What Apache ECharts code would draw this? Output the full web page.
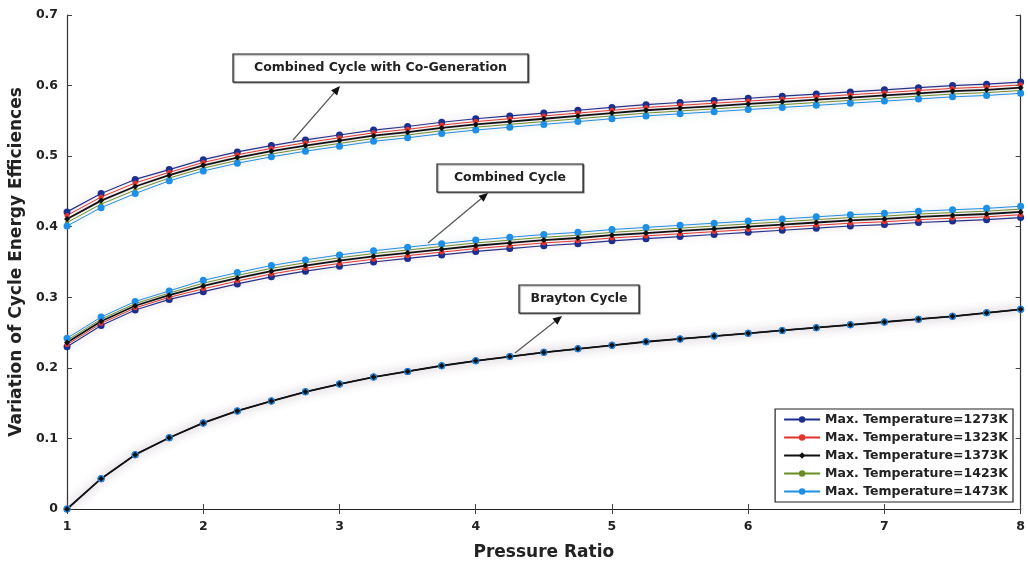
<!DOCTYPE html>
<html>
<head>
<meta charset="utf-8">
<script src="https://cdn.jsdelivr.net/npm/echarts@6/dist/echarts.min.js"></script>
<style>
html,body{margin:0;padding:0;background:#fff;}
#chart{width:1028px;height:567px;}
</style>
</head>
<body>
<div id="chart"></div>
<script>
// Pressure ratio (x)
const PR = [1,1.25,1.5,1.75,2,2.25,2.5,2.75,3,3.25,3.5,3.75,4,4.25,4.5,4.75,5,5.25,5.5,5.75,6,6.25,6.5,6.75,7,7.25,7.5,7.75,8];
const TEMPS = ['Max. Temperature=1273K','Max. Temperature=1323K','Max. Temperature=1373K','Max. Temperature=1423K','Max. Temperature=1473K'];
const X_TICKS = [1,2,3,4,5,6,7,8];
const Y_TICKS = [0,0.1,0.2,0.3,0.4,0.5,0.6,0.7];

// Combined cycle with co-generation
const CCG_1273 = [0.421,0.447,0.467,0.481,0.495,0.506,0.515,0.523,0.530,0.537,0.542,0.548,0.553,0.557,0.561,0.565,0.569,0.573,0.576,0.579,0.582,0.585,0.588,0.591,0.594,0.597,0.600,0.602,0.605];
const CCG_1323 = [0.416,0.442,0.462,0.477,0.491,0.502,0.511,0.519,0.526,0.533,0.538,0.544,0.549,0.553,0.557,0.561,0.565,0.569,0.572,0.575,0.578,0.581,0.584,0.587,0.590,0.593,0.596,0.598,0.601];
const CCG_1373 = [0.411,0.437,0.457,0.473,0.487,0.498,0.507,0.515,0.522,0.529,0.534,0.540,0.545,0.549,0.553,0.557,0.561,0.565,0.568,0.571,0.574,0.577,0.580,0.583,0.586,0.589,0.592,0.594,0.597];
const CCG_1423 = [0.406,0.432,0.452,0.469,0.483,0.494,0.503,0.511,0.518,0.525,0.530,0.536,0.541,0.545,0.549,0.553,0.557,0.561,0.564,0.567,0.570,0.573,0.576,0.579,0.582,0.585,0.588,0.590,0.593];
const CCG_1473 = [0.401,0.427,0.447,0.465,0.479,0.490,0.499,0.507,0.514,0.521,0.526,0.532,0.537,0.541,0.545,0.549,0.553,0.557,0.560,0.563,0.566,0.569,0.572,0.575,0.578,0.581,0.584,0.586,0.589];

// Combined cycle
const CC_1273 = [0.230,0.260,0.282,0.297,0.308,0.319,0.329,0.337,0.344,0.350,0.355,0.360,0.365,0.369,0.373,0.376,0.380,0.383,0.386,0.389,0.392,0.395,0.398,0.401,0.403,0.406,0.408,0.410,0.413];
const CC_1323 = [0.233,0.263,0.285,0.300,0.312,0.323,0.333,0.341,0.348,0.354,0.359,0.364,0.369,0.373,0.377,0.380,0.384,0.387,0.390,0.393,0.396,0.399,0.402,0.405,0.407,0.410,0.412,0.414,0.417];
const CC_1373 = [0.236,0.266,0.288,0.303,0.316,0.327,0.337,0.345,0.352,0.358,0.363,0.368,0.373,0.377,0.381,0.384,0.388,0.391,0.394,0.397,0.400,0.403,0.406,0.409,0.411,0.414,0.416,0.418,0.421];
const CC_1423 = [0.239,0.269,0.291,0.306,0.320,0.331,0.341,0.349,0.356,0.362,0.367,0.372,0.377,0.381,0.385,0.388,0.392,0.395,0.398,0.401,0.404,0.407,0.410,0.413,0.415,0.418,0.420,0.422,0.425];
const CC_1473 = [0.242,0.272,0.294,0.309,0.324,0.335,0.345,0.353,0.360,0.366,0.371,0.376,0.381,0.385,0.389,0.392,0.396,0.399,0.402,0.405,0.408,0.411,0.414,0.417,0.419,0.422,0.424,0.426,0.429];

// Brayton cycle (curves for all temperatures coincide)
const BR_1273 = [0,0.043,0.077,0.101,0.122,0.139,0.153,0.166,0.177,0.187,0.195,0.203,0.210,0.216,0.222,0.227,0.232,0.237,0.241,0.245,0.249,0.253,0.257,0.261,0.265,0.269,0.273,0.278,0.283];
const BR_1323 = [0,0.043,0.077,0.101,0.122,0.139,0.153,0.166,0.177,0.187,0.195,0.203,0.210,0.216,0.222,0.227,0.232,0.237,0.241,0.245,0.249,0.253,0.257,0.261,0.265,0.269,0.273,0.278,0.283];
const BR_1373 = [0,0.043,0.077,0.101,0.122,0.139,0.153,0.166,0.177,0.187,0.195,0.203,0.210,0.216,0.222,0.227,0.232,0.237,0.241,0.245,0.249,0.253,0.257,0.261,0.265,0.269,0.273,0.278,0.283];
const BR_1423 = [0,0.043,0.077,0.101,0.122,0.139,0.153,0.166,0.177,0.187,0.195,0.203,0.210,0.216,0.222,0.227,0.232,0.237,0.241,0.245,0.249,0.253,0.257,0.261,0.265,0.269,0.273,0.278,0.283];
const BR_1473 = [0,0.043,0.077,0.101,0.122,0.139,0.153,0.166,0.177,0.187,0.195,0.203,0.210,0.216,0.222,0.227,0.232,0.237,0.241,0.245,0.249,0.253,0.257,0.261,0.265,0.269,0.273,0.278,0.283];

const VALUES = [
  [CCG_1273, CC_1273, BR_1273],
  [CCG_1323, CC_1323, BR_1323],
  [CCG_1373, CC_1373, BR_1373],
  [CCG_1423, CC_1423, BR_1423],
  [CCG_1473, CC_1473, BR_1473]
];

const STYLES = [
  {color:'#1b2f8e', width:1.2, symbol:'circle', size:7, halo:'rgba(120,140,220,0.4)'},
  {color:'#e2332c', width:1,   symbol:'circle', size:5, halo:'rgba(240,140,140,0.45)'},
  {color:'#111111', width:1.8, symbol:'diamond', size:6, halo:'rgba(220,150,160,0.45)'},
  {color:'#6b8e23', width:1,   symbol:'circle', size:4, halo:'rgba(150,190,120,0.35)'},
  {color:'#1e8fe6', width:1,   symbol:'circle', size:7, halo:'rgba(110,180,230,0.5)'}
];

const FONT = '"DejaVu Sans", "Liberation Sans", sans-serif';
const DRAW_ORDER = [0,1,3,4,2];

const series = [];
DRAW_ORDER.forEach(ti => {
  const st = STYLES[ti];
  VALUES[ti].forEach(arr => {
    series.push({
      name: TEMPS[ti],
      type: 'line',
      data: PR.map((x,i) => [x, arr[i]]),
      symbol: st.symbol,
      symbolSize: st.size,
      showSymbol: true,
      itemStyle: {color: st.color},
      lineStyle: {color: st.color, width: st.width, shadowColor: st.halo, shadowBlur: 10},
      emphasis: {disabled: true},
      animation: false
    });
  });
});

function arrow(x1,y1,x2,y2){
  const a = Math.atan2(y2-y1, x2-x1);
  const L = 9, W = 4;
  const bx = x2 - L*Math.cos(a), by = y2 - L*Math.sin(a);
  const px = -Math.sin(a)*W, py = Math.cos(a)*W;
  return [
    {type:'line', shape:{x1:x1,y1:y1,x2:bx,y2:by}, style:{stroke:'#555', lineWidth:1.2}, z:100},
    {type:'polygon', shape:{points:[[x2,y2],[bx+px,by+py],[bx-px,by-py]]}, style:{fill:'#111'}, z:100}
  ];
}
function box(x,y,w,h,text){
  return [
    {type:'rect', shape:{x:x,y:y,width:w,height:h}, style:{fill:'#fff', stroke:'#222', lineWidth:1.2, shadowColor:'rgba(0,0,0,0.45)', shadowOffsetX:1, shadowOffsetY:1, shadowBlur:1}, z:100},
    {type:'text', x:x+w/2, y:y+h/2, style:{text:text, align:'center', verticalAlign:'middle', font:'bold 12.5px ' + FONT, fill:'#222'}, z:101}
  ];
}

const graphics = [].concat(
  arrow(293,140,340,86), box(233,54,295,28,'Combined Cycle with Co-Generation'),
  arrow(428,243,488,193), box(437,164,146,28,'Combined Cycle'),
  arrow(515,353,562,316), box(519,285,120,28,'Brayton Cycle')
);

const axisLineStyle = {lineStyle:{color:'#222', width:1.2}};
const chart = echarts.init(document.getElementById('chart'), null, {renderer:'canvas'});
chart.setOption({
  backgroundColor:'#fff',
  animation:false,
  grid:{left:67, right:6, top:15, bottom:58},
  legend:{
    data: TEMPS,
    orient:'vertical',
    right:15, bottom:65,
    backgroundColor:'#fff',
    borderColor:'#222', borderWidth:1.2,
    padding:[4,5,4,8],
    itemGap:5,
    itemWidth:36, itemHeight:8,
    textStyle:{fontFamily:FONT, fontWeight:'bold', fontSize:12.5, color:'#222'},
    selectedMode:false,
    z:50
  },
  xAxis:[
    {type:'value', min:1, max:8, interval:1, position:'bottom',
     name:'Pressure Ratio', nameLocation:'middle', nameGap:35,
     nameTextStyle:{fontFamily:FONT, fontWeight:'bold', fontSize:17, color:'#222'},
     axisLine:axisLineStyle, axisTick:{inside:true, length:5, lineStyle:{color:'#444'}},
     axisLabel:{fontFamily:FONT, fontWeight:'bold', fontSize:12.5, color:'#222', margin:11,
       formatter: v => X_TICKS.includes(v) ? String(v) : ''},
     splitLine:{show:false}},
    {type:'value', min:1, max:8, interval:1, position:'top',
     axisLine:axisLineStyle, axisTick:{inside:true, length:5, lineStyle:{color:'#444'}},
     axisLabel:{show:false}, splitLine:{show:false}}
  ],
  yAxis:[
    {type:'value', min:0, max:0.7, interval:0.1, position:'left',
     name:'Variation of Cycle Energy Efficiences', nameLocation:'middle', nameGap:38,
     nameTextStyle:{fontFamily:FONT, fontWeight:'bold', fontSize:17, color:'#222'},
     axisLine:{show:true, lineStyle:{color:'#333', width:1.2}},
     axisTick:{show:true, inside:true, length:5, lineStyle:{color:'#444'}},
     axisLabel:{fontFamily:FONT, fontWeight:'bold', fontSize:12.5, color:'#222', margin:9,
       formatter: v => { const t = Y_TICKS.find(k => Math.abs(k-v) < 1e-9); return t === undefined ? '' : (t === 0 ? '0' : t.toFixed(1)); }},
     splitLine:{show:false}},
    {type:'value', min:0, max:0.7, interval:0.1, position:'right',
     axisLine:{show:true, lineStyle:{color:'#333', width:1.2}},
     axisTick:{show:true, inside:true, length:5, lineStyle:{color:'#444'}},
     axisLabel:{show:false}, splitLine:{show:false}}
  ],
  series: series,
  graphic: graphics
});
</script>
</body>
</html>
